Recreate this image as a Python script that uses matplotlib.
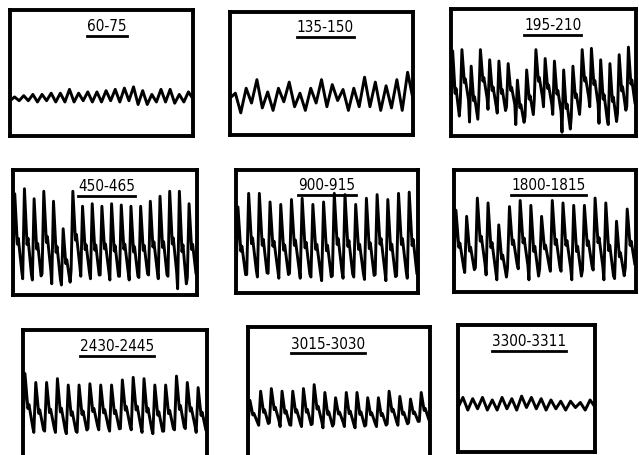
import matplotlib.pyplot as plt
import numpy as np

# labels of the nine panels (time windows)
labels = ['60-75', '135-150', '195-210',
          '450-465', '900-915', '1800-1815',
          '2430-2445', '3015-3030', '3300-3311']

# peak / trough levels of each beat (fraction of box height)
peaks_1 = [0.31, 0.32, 0.33, 0.33, 0.34, 0.34, 0.37, 0.34, 0.35, 0.35,
           0.36, 0.37, 0.38, 0.39, 0.36, 0.33, 0.37, 0.37, 0.33, 0.35]
troughs_1 = [0.28, 0.28, 0.28, 0.27, 0.28, 0.27, 0.27, 0.27, 0.28, 0.27,
             0.27, 0.28, 0.27, 0.28, 0.25, 0.25, 0.27, 0.27, 0.26, 0.27]

peaks_2 = [0.34, 0.38, 0.45, 0.35, 0.38, 0.43, 0.34, 0.38, 0.45, 0.41,
           0.37, 0.38, 0.47, 0.43, 0.40, 0.45, 0.51]
troughs_2 = [0.30, 0.18, 0.26, 0.22, 0.20, 0.27, 0.23, 0.20, 0.26, 0.23,
             0.28, 0.20, 0.23, 0.23, 0.20, 0.22, 0.20]

peaks_3 = [0.67, 0.68, 0.55, 0.68, 0.60, 0.59, 0.57, 0.44, 0.52, 0.68,
           0.61, 0.59, 0.52, 0.55, 0.68, 0.69, 0.60, 0.57, 0.64, 0.70]
troughs_3 = [0.13, 0.26, 0.11, 0.28, 0.21, 0.18, 0.23, 0.09, 0.15, 0.28,
             0.23, 0.17, 0.03, 0.15, 0.28, 0.23, 0.10, 0.09, 0.18, 0.23]

peaks_4 = [0.81, 0.85, 0.77, 0.83, 0.75, 0.53, 0.83, 0.71, 0.73, 0.71,
           0.73, 0.72, 0.71, 0.71, 0.75, 0.79, 0.83, 0.83, 0.73]
troughs_4 = [0.16, 0.13, 0.12, 0.17, 0.09, 0.08, 0.20, 0.15, 0.13, 0.16,
             0.12, 0.15, 0.12, 0.14, 0.16, 0.13, 0.15, 0.05, 0.14]

peaks_5 = [0.70, 0.81, 0.81, 0.74, 0.72, 0.76, 0.77, 0.72, 0.74, 0.81,
           0.80, 0.72, 0.77, 0.80, 0.76, 0.81, 0.82]
troughs_5 = [0.12, 0.15, 0.13, 0.16, 0.12, 0.16, 0.12, 0.13, 0.10, 0.14,
             0.12, 0.13, 0.11, 0.15, 0.10, 0.14, 0.12]

peaks_6 = [0.67, 0.62, 0.77, 0.73, 0.55, 0.70, 0.75, 0.71, 0.62, 0.75,
           0.73, 0.71, 0.71, 0.77, 0.73, 0.58, 0.68]
troughs_6 = [0.18, 0.16, 0.20, 0.14, 0.10, 0.20, 0.19, 0.10, 0.19, 0.17,
             0.17, 0.10, 0.18, 0.18, 0.10, 0.11, 0.20]

peaks_7 = [0.66, 0.59, 0.59, 0.62, 0.57, 0.57, 0.58, 0.57, 0.57, 0.61,
           0.63, 0.62, 0.57, 0.57, 0.64, 0.59, 0.55]
troughs_7 = [0.22, 0.20, 0.21, 0.20, 0.19, 0.20, 0.23, 0.22, 0.21, 0.23,
             0.22, 0.20, 0.19, 0.21, 0.22, 0.23, 0.20]

peaks_8 = [0.44, 0.51, 0.53, 0.51, 0.51, 0.53, 0.56, 0.50, 0.46, 0.50,
           0.50, 0.46, 0.46, 0.51, 0.47, 0.45, 0.50]
troughs_8 = [0.26, 0.25, 0.27, 0.24, 0.25, 0.24, 0.26, 0.23, 0.26, 0.24,
             0.23, 0.25, 0.24, 0.26, 0.25, 0.27, 0.28]

peaks_9 = [0.43, 0.42, 0.43, 0.41, 0.43, 0.42, 0.44, 0.43, 0.42, 0.41,
           0.40, 0.40, 0.39, 0.41]
troughs_9 = [0.35, 0.33, 0.34, 0.33, 0.33, 0.34, 0.33, 0.35, 0.34, 0.33,
             0.34, 0.33, 0.35, 0.33]

peaks = [peaks_1, peaks_2, peaks_3, peaks_4, peaks_5, peaks_6, peaks_7, peaks_8, peaks_9]
troughs = [troughs_1, troughs_2, troughs_3, troughs_4, troughs_5, troughs_6,
           troughs_7, troughs_8, troughs_9]

# box positions in pixels: x0, y0 (top), x1, y1 (bottom)
boxes = [(10, 10, 193, 136), (230, 12, 413, 135), (451, 9, 636, 136),
         (13, 170, 197, 295), (236, 170, 418, 293), (454, 170, 636, 292),
         (23, 330, 207, 458), (248, 327, 430, 458), (458, 325, 595, 452)]
kinds = ['wave', 'wave', 'pulse', 'pulse', 'pulse', 'pulse', 'pulse', 'pulse', 'wave']
title_x = [0.53, 0.52, 0.55, 0.51, 0.5, 0.52, 0.51, 0.44, 0.52]

W, H = 639, 455


def trace(pk, tr, kind):
    n = len(pk)
    d = 1 / n
    xs, ys = [], []
    for i in range(n):
        t0 = i / n
        a = pk[i] - tr[i]
        if kind == 'pulse':
            # steep upstroke, fall to notch, small bump, slow decay
            xs += [t0, t0 + 0.18 * d, t0 + 0.45 * d, t0 + 0.55 * d, t0 + 0.9 * d]
            ys += [tr[i], pk[i], tr[i] + 0.38 * a, tr[i] + 0.45 * a, tr[i] + 0.05 * a]
        else:
            xs += [t0, t0 + 0.5 * d]
            ys += [tr[i], pk[i]]
    xs.append(1.0); ys.append(tr[-1] + 0.3 * (pk[-1] - tr[-1]))
    return xs, ys


fig = plt.figure(figsize=(W / 100, H / 100), dpi=100)
axes = []
for i, (x0, y0, x1, y1) in enumerate(boxes):
    ax = fig.add_axes([x0 / W, 1 - y1 / H, (x1 - x0) / W, (y1 - y0) / H])
    xs, ys = trace(peaks[i], troughs[i], kinds[i])
    ax.plot(xs, ys, color='black', lw=2.1, solid_joinstyle='round')
    ax.set_xlim(0, 1)
    ax.set_ylim(0, 1)
    ax.set_xticks([])
    ax.set_yticks([])
    for s in ax.spines.values():
        s.set_linewidth(2.8)
    t = ax.text(title_x[i], 0.87, labels[i], transform=ax.transAxes,
                ha='center', va='center', fontsize=11, family='DejaVu Sans',
                fontstretch='condensed')
    axes.append((ax, t))

fig.canvas.draw()
for ax, t in axes:
    bb = t.get_window_extent().transformed(ax.transAxes.inverted())
    ax.plot([bb.x0, bb.x1], [bb.y0 - 0.015, bb.y0 - 0.015], transform=ax.transAxes,
            color='black', lw=2.0)

fig.savefig('out.png', dpi=100)
